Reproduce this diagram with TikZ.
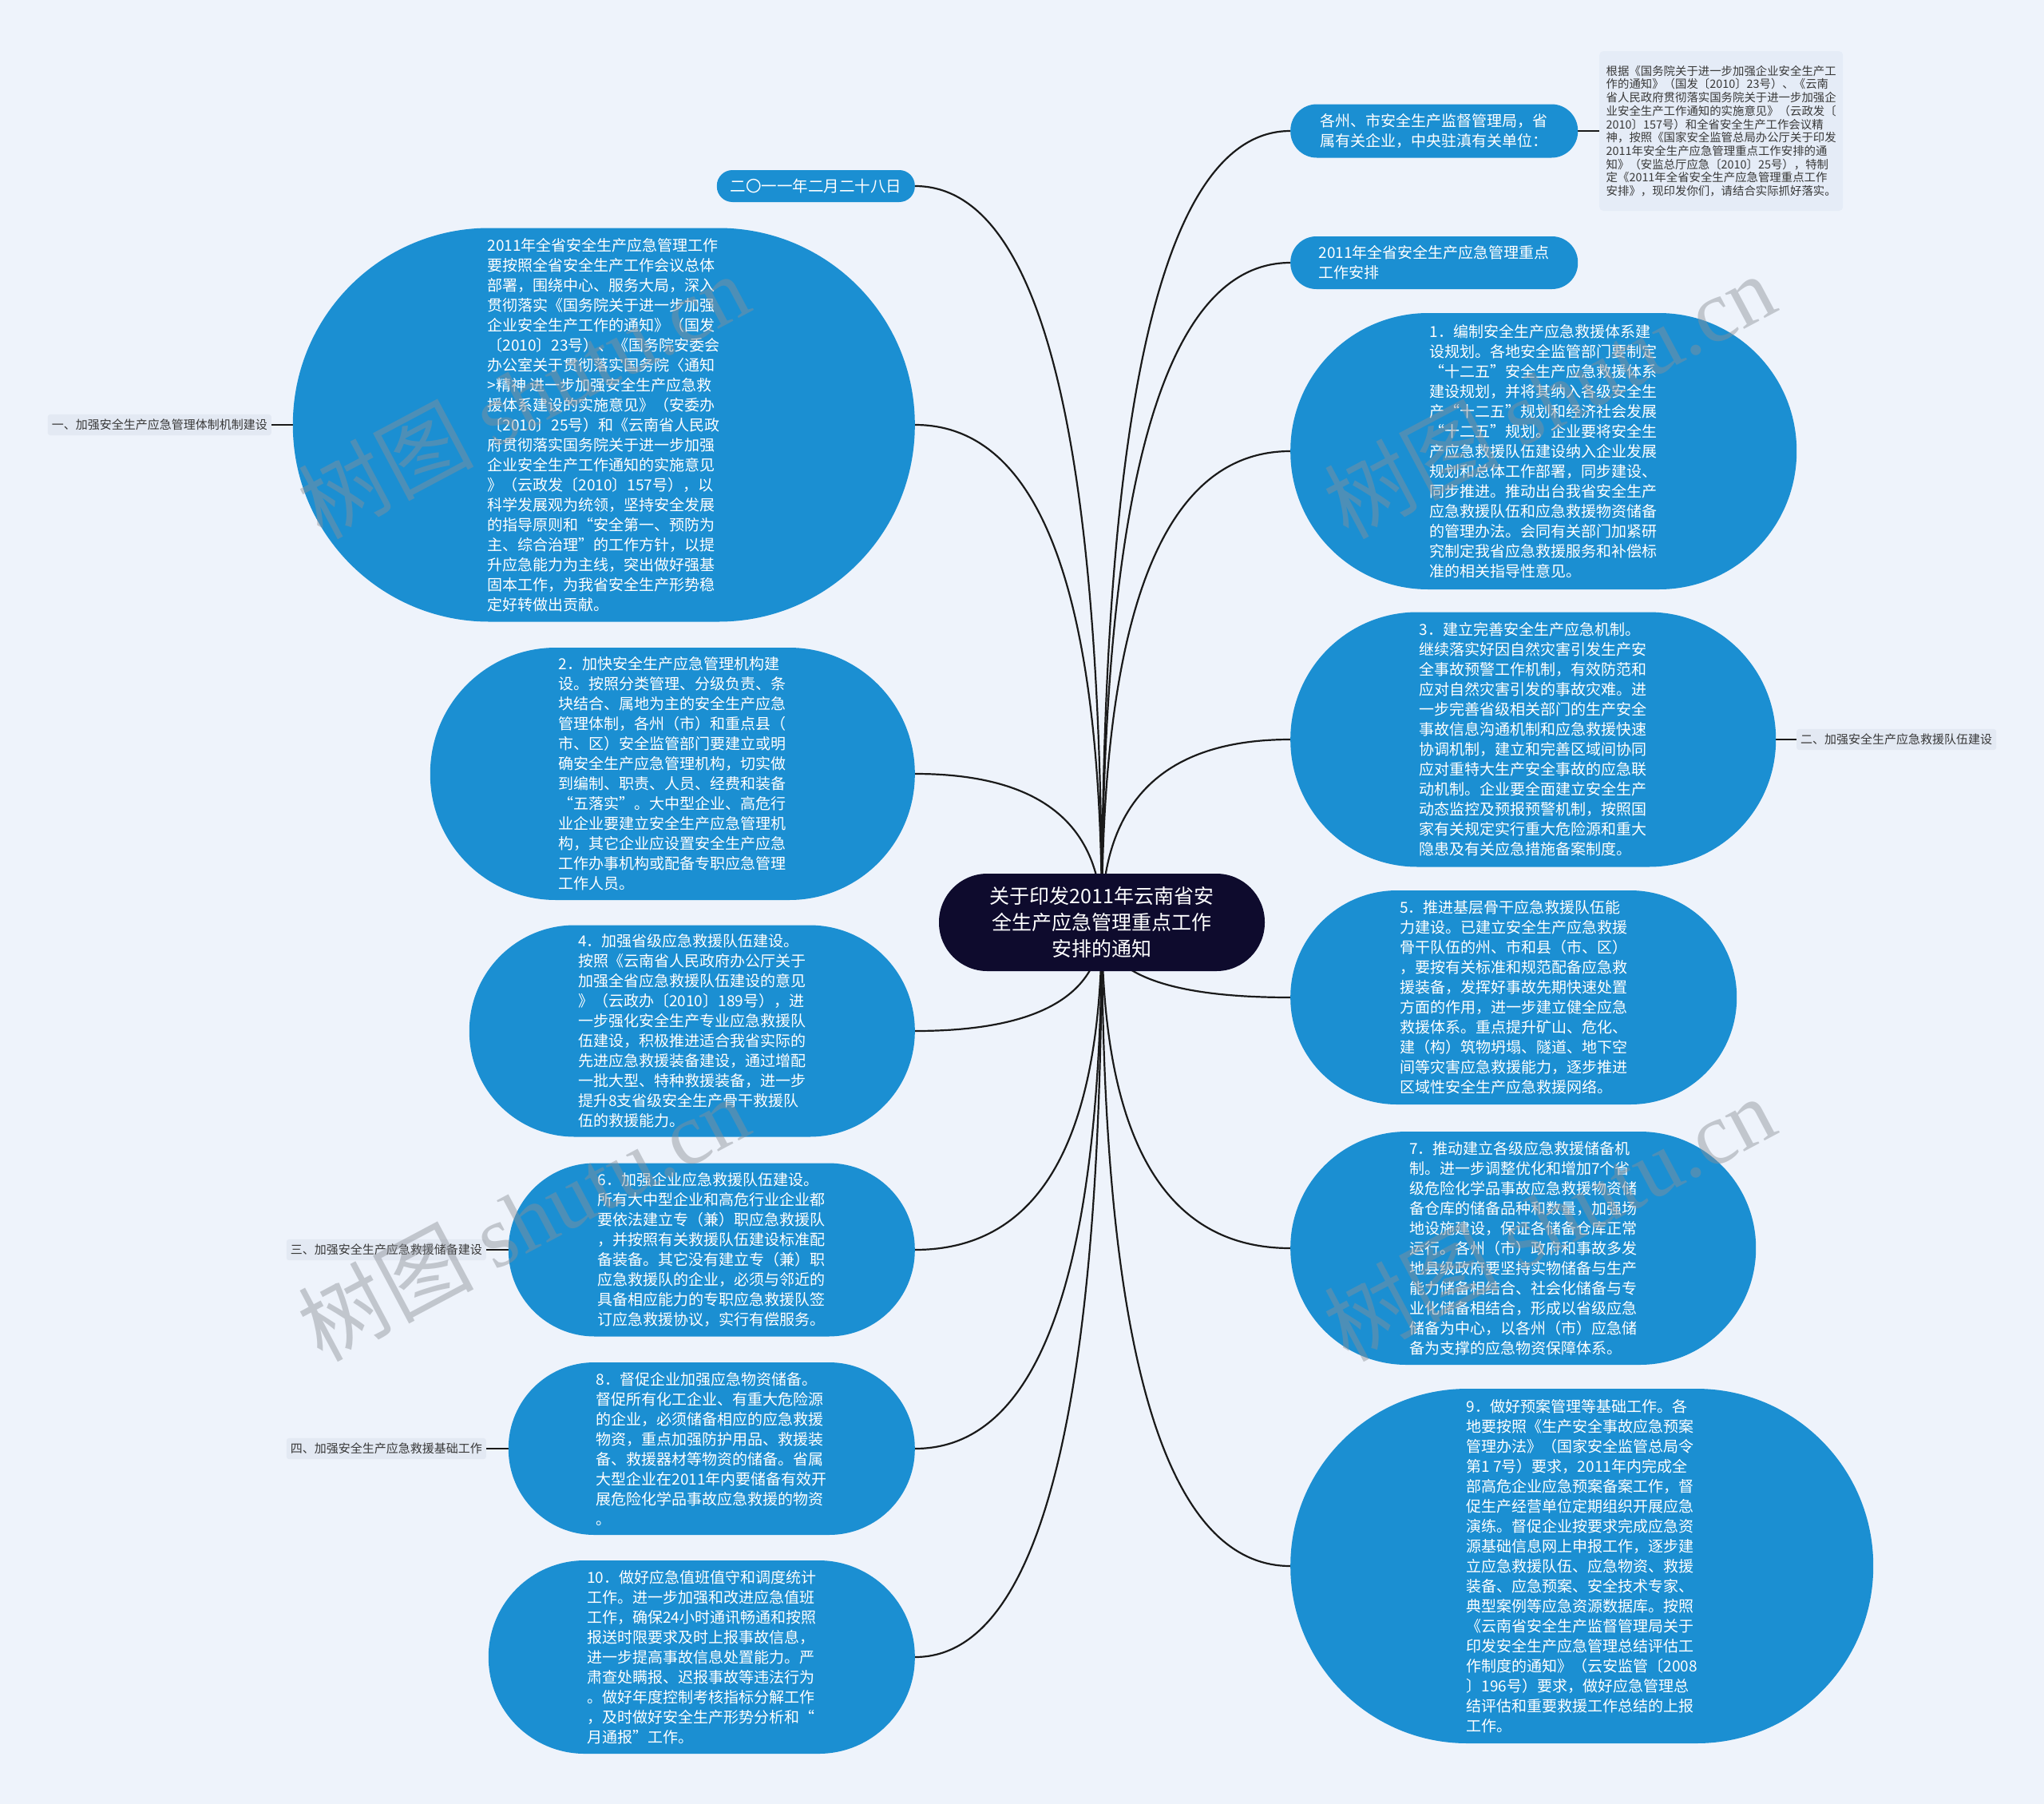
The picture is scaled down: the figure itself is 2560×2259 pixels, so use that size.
\documentclass[tikz,border=0pt]{standalone}
\usepackage{fontspec}
\setmainfont{Noto Sans CJK SC}
\newfontfamily\wmfont{Liberation Serif}
\usetikzlibrary{calc}
\definecolor{bgc}{HTML}{EEF3FB}
\definecolor{nodeblue}{HTML}{1B8FD2}
\definecolor{navy}{HTML}{0E0B2D}
\definecolor{linec}{HTML}{1A1A1A}
\definecolor{labfill}{HTML}{E3E9F3}
\definecolor{notefill}{HTML}{E5ECF7}
\definecolor{wmgray}{HTML}{8C9097}
\pgfdeclarelayer{bg}
\pgfdeclarelayer{lines}
\pgfsetlayers{bg,lines,main}
\newcommand\mmlink[1]{%
  \draw[conn] (C.center) .. controls ($(C.center)!0.6667!(C.center |- #1)$) and ($(#1)!0.6667!(C.center |- #1)$) .. (#1);}
\begin{document}
\begin{tikzpicture}[x=1pt,y=-1pt,
  bluebox/.style={rectangle, fill=nodeblue, text=white, align=left, inner sep=0pt,
    font=\fontsize{19}{25}\selectfont},
  centerbox/.style={rectangle, fill=navy, text=white, align=center, inner sep=0pt,
    font=\fontsize{25}{33}\selectfont},
  labbox/.style={rectangle, fill=labfill, rounded corners=3pt, text=black!78, inner xsep=5pt, inner ysep=6pt,
    font=\fontsize{15}{18}\selectfont},
  notebox/.style={rectangle, fill=notefill, rounded corners=5pt, text=black!78, align=left, inner sep=0pt,
    font=\fontsize{14.4}{16.7}\selectfont},
  conn/.style={draw=linec, line width=2.2pt},
  wm/.style={text=wmgray, text opacity=0.45, inner sep=0pt, font=\fontsize{110}{115}\selectfont}
]
\useasboundingbox (0,0) rectangle (2560,2259);
\begin{pgfonlayer}{bg}
\fill[bgc] (0,0) rectangle (2560,2259);
\end{pgfonlayer}

% center
\node[centerbox, minimum width=408, minimum height=122, rounded corners=60.5] (C) at (1380,1155)
 {关于印发2011年云南省安\\全生产应急管理重点工作\\安排的通知};

% left side
\node[bluebox, align=center, font=\fontsize{19.5}{24}\selectfont, minimum width=248, minimum height=40, rounded corners=19.5, anchor=east] (L0) at (1146,233)
 {二〇一一年二月二十八日};

\node[bluebox, minimum width=779, minimum height=493, rounded corners=246, anchor=east] (L1) at (1146,532)
 {2011年全省安全生产应急管理工作\\要按照全省安全生产工作会议总体\\部署，围绕中心、服务大局，深入\\贯彻落实《国务院关于进一步加强\\企业安全生产工作的通知》（国发\\〔2010〕23号）、《国务院安委会\\办公室关于贯彻落实国务院〈通知\\>精神 进一步加强安全生产应急救\\援体系建设的实施意见》（安委办\\〔2010〕25号）和《云南省人民政\\府贯彻落实国务院关于进一步加强\\企业安全生产工作通知的实施意见\\》（云政发〔2010〕157号），以\\科学发展观为统领，坚持安全发展\\的指导原则和“安全第一、预防为\\主、综合治理”的工作方针，以提\\升应急能力为主线，突出做好强基\\固本工作，为我省安全生产形势稳\\定好转做出贡献。};

\node[bluebox, minimum width=607, minimum height=316, rounded corners=157.5, anchor=east] (L2) at (1146,969)
 {2．加快安全生产应急管理机构建\\设。按照分类管理、分级负责、条\\块结合、属地为主的安全生产应急\\管理体制，各州（市）和重点县（\\市、区）安全监管部门要建立或明\\确安全生产应急管理机构，切实做\\到编制、职责、人员、经费和装备\\“五落实”。大中型企业、高危行\\业企业要建立安全生产应急管理机\\构，其它企业应设置安全生产应急\\工作办事机构或配备专职应急管理\\工作人员。};

\node[bluebox, minimum width=558, minimum height=265, rounded corners=132, anchor=east] (L3) at (1146,1291)
 {4．加强省级应急救援队伍建设。\\按照《云南省人民政府办公厅关于\\加强全省应急救援队伍建设的意见\\》（云政办〔2010〕189号），进\\一步强化安全生产专业应急救援队\\伍建设，积极推进适合我省实际的\\先进应急救援装备建设，通过增配\\一批大型、特种救援装备，进一步\\提升8支省级安全生产骨干救援队\\伍的救援能力。};

\node[bluebox, minimum width=509, minimum height=217, rounded corners=108, anchor=east] (L4) at (1146,1565)
 {6．加强企业应急救援队伍建设。\\所有大中型企业和高危行业企业都\\要依法建立专（兼）职应急救援队\\，并按照有关救援队伍建设标准配\\备装备。其它没有建立专（兼）职\\应急救援队的企业，必须与邻近的\\具备相应能力的专职应急救援队签\\订应急救援协议，实行有偿服务。};

\node[bluebox, minimum width=509, minimum height=216, rounded corners=107.5, anchor=east] (L5) at (1146,1814)
 {8．督促企业加强应急物资储备。\\督促所有化工企业、有重大危险源\\的企业，必须储备相应的应急救援\\物资，重点加强防护用品、救援装\\备、救援器材等物资的储备。省属\\大型企业在2011年内要储备有效开\\展危险化学品事故应急救援的物资\\。};

\node[bluebox, minimum width=534, minimum height=242, rounded corners=120.5, anchor=east] (L6) at (1146,2075)
 {10．做好应急值班值守和调度统计\\工作。进一步加强和改进应急值班\\工作，确保24小时通讯畅通和按照\\报送时限要求及时上报事故信息，\\进一步提高事故信息处置能力。严\\肃查处瞒报、迟报事故等违法行为\\。做好年度控制考核指标分解工作\\，及时做好安全生产形势分析和“\\月通报”工作。};

% right side
\node[bluebox, minimum width=360, minimum height=67, rounded corners=33, anchor=west] (R0) at (1616,164)
 {各州、市安全生产监督管理局，省\\属有关企业，中央驻滇有关单位：};

\node[bluebox, minimum width=360, minimum height=66, rounded corners=32.5, anchor=west] (R1) at (1616,329)
 {2011年全省安全生产应急管理重点\\工作安排};

\node[bluebox, minimum width=634, minimum height=346, rounded corners=172.5, anchor=west] (R2) at (1616,565)
 {1．编制安全生产应急救援体系建\\设规划。各地安全监管部门要制定\\“十二五”安全生产应急救援体系\\建设规划，并将其纳入各级安全生\\产“十二五”规划和经济社会发展\\“十二五”规划。企业要将安全生\\产应急救援队伍建设纳入企业发展\\规划和总体工作部署，同步建设、\\同步推进。推动出台我省安全生产\\应急救援队伍和应急救援物资储备\\的管理办法。会同有关部门加紧研\\究制定我省应急救援服务和补偿标\\准的相关指导性意见。};

\node[bluebox, minimum width=608, minimum height=319, rounded corners=159, anchor=west] (R3) at (1616,926)
 {3．建立完善安全生产应急机制。\\继续落实好因自然灾害引发生产安\\全事故预警工作机制，有效防范和\\应对自然灾害引发的事故灾难。进\\一步完善省级相关部门的生产安全\\事故信息沟通机制和应急救援快速\\协调机制，建立和完善区域间协同\\应对重特大生产安全事故的应急联\\动机制。企业要全面建立安全生产\\动态监控及预报预警机制，按照国\\家有关规定实行重大危险源和重大\\隐患及有关应急措施备案制度。};

\node[bluebox, minimum width=559, minimum height=268, rounded corners=133.5, anchor=west] (R4) at (1616,1249)
 {5．推进基层骨干应急救援队伍能\\力建设。已建立安全生产应急救援\\骨干队伍的州、市和县（市、区）\\，要按有关标准和规范配备应急救\\援装备，发挥好事故先期快速处置\\方面的作用，进一步建立健全应急\\救援体系。重点提升矿山、危化、\\建（构）筑物坍塌、隧道、地下空\\间等灾害应急救援能力，逐步推进\\区域性安全生产应急救援网络。};

\node[bluebox, minimum width=583, minimum height=292, rounded corners=145.5, anchor=west] (R5) at (1616,1563)
 {7．推动建立各级应急救援储备机\\制。进一步调整优化和增加7个省\\级危险化学品事故应急救援物资储\\备仓库的储备品种和数量，加强场\\地设施建设，保证各储备仓库正常\\运行。各州（市）政府和事故多发\\地县级政府要坚持实物储备与生产\\能力储备相结合、社会化储备与专\\业化储备相结合，形成以省级应急\\储备为中心，以各州（市）应急储\\备为支撑的应急物资保障体系。};

\node[bluebox, minimum width=730, minimum height=444, rounded corners=221.5, anchor=west] (R6) at (1616,1961)
 {9．做好预案管理等基础工作。各\\地要按照《生产安全事故应急预案\\管理办法》（国家安全监管总局令\\第1 7号）要求，2011年内完成全\\部高危企业应急预案备案工作，督\\促生产经营单位定期组织开展应急\\演练。督促企业按要求完成应急资\\源基础信息网上申报工作，逐步建\\立应急救援队伍、应急物资、救援\\装备、应急预案、安全技术专家、\\典型案例等应急资源数据库。按照\\《云南省安全生产监督管理局关于\\印发安全生产应急管理总结评估工\\作制度的通知》（云安监管〔2008\\〕196号）要求，做好应急管理总\\结评估和重要救援工作总结的上报\\工作。};

% third level
\node[labbox, anchor=east] (A1) at (340,532) {一、加强安全生产应急管理体制机制建设};
\node[labbox, anchor=east] (A3) at (609,1565) {三、加强安全生产应急救援储备建设};
\node[labbox, anchor=east] (A4) at (609,1814) {四、加强安全生产应急救援基础工作};
\node[labbox, anchor=west] (A2) at (2250,926) {二、加强安全生产应急救援队伍建设};
\node[notebox, minimum width=305, minimum height=200, anchor=west] (N0) at (2003,164)
 {根据《国务院关于进一步加强企业安全生产工\\作的通知》（国发〔2010〕23号）、《云南\\省人民政府贯彻落实国务院关于进一步加强企\\业安全生产工作通知的实施意见》（云政发〔\\2010〕157号）和全省安全生产工作会议精\\神，按照《国家安全监管总局办公厅关于印发\\2011年安全生产应急管理重点工作安排的通\\知》（安监总厅应急〔2010〕25号），特制\\定《2011年全省安全生产应急管理重点工作\\安排》，现印发你们，请结合实际抓好落实。};

% connectors
\begin{pgfonlayer}{lines}
\mmlink{L0.east}
\mmlink{L1.east}
\mmlink{L2.east}
\mmlink{L3.east}
\mmlink{L4.east}
\mmlink{L5.east}
\mmlink{L6.east}
\mmlink{R0.west}
\mmlink{R1.west}
\mmlink{R2.west}
\mmlink{R3.west}
\mmlink{R4.west}
\mmlink{R5.west}
\mmlink{R6.west}
\draw[conn] (L1.west) -- (A1.east);
\draw[conn] (L4.west) -- (A3.east);
\draw[conn] (L5.west) -- (A4.east);
\draw[conn] (R3.east) -- (A2.west);
\draw[conn] (R0.east) -- (N0.west);
\end{pgfonlayer}

% watermarks
\node[wm, rotate=28] (W1) at (655,495) {树图 {\wmfont shutu.cn}};
\node[wm, rotate=28] (W2) at (1940,495) {树图 {\wmfont shutu.cn}};
\node[wm, rotate=28] (W3) at (655,1525) {树图 {\wmfont shutu.cn}};
\node[wm, rotate=28] (W4) at (1940,1525) {树图 {\wmfont shutu.cn}};
\end{tikzpicture}
\end{document}
